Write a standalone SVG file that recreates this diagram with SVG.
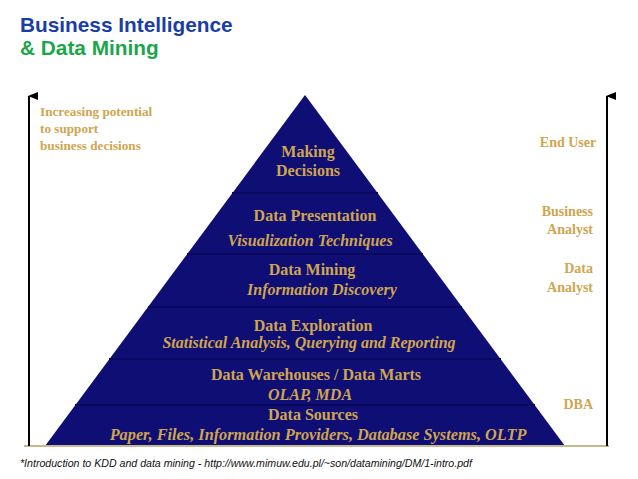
<svg xmlns="http://www.w3.org/2000/svg" width="638" height="479" viewBox="0 0 638 479">
<defs>
<style>
.t{font-family:"Liberation Serif","Times New Roman",serif;font-weight:bold;fill:#cfa550;}
.m{text-anchor:middle;}
.i{font-style:italic;}
.band{stroke:#08085c;stroke-width:2;}
</style>
<marker id="ah" markerWidth="8" markerHeight="10" refX="4" refY="1" orient="auto-start-reverse" markerUnits="userSpaceOnUse" viewBox="0 0 8 10">
<path d="M0,10 L4,0 L8,10 Z" fill="#000"/>
</marker>
</defs>
<rect width="638" height="479" fill="#fff"/>
<g id="title">
<text x="20" y="32" font-family="Liberation Sans,Arial,sans-serif" font-weight="bold" font-size="20.8" fill="#1a3da8">Business Intelligence</text>
<text x="20" y="55" font-family="Liberation Sans,Arial,sans-serif" font-weight="bold" font-size="20.8" fill="#1ca64c">&amp; Data Mining</text>
</g>
<g id="pyramid">
<polygon points="305,95 565,446 45,446" fill="#0e0e74"/>
<line class="band" x1="232" y1="193" x2="378" y2="193"/>
<line class="band" x1="187" y1="254" x2="423" y2="254"/>
<line class="band" x1="148" y1="307" x2="462" y2="307"/>
<line class="band" x1="109" y1="359" x2="501" y2="359"/>
<line class="band" x1="75" y1="405" x2="535" y2="405"/>
<line x1="24" y1="446" x2="609" y2="446" stroke="#c8b890" stroke-width="2"/>
</g>
<g id="connectors">
<line x1="29" y1="446" x2="29" y2="96" stroke="#000" stroke-width="2" marker-end="url(#ah)"/>
<line x1="607" y1="446" x2="607" y2="96" stroke="#000" stroke-width="2" marker-end="url(#ah)"/>
</g>
<g id="making-decisions">
<text class="t m" x="308" y="157" font-size="16">Making</text>
<text class="t m" x="308" y="176" font-size="16">Decisions</text>
</g>
<g id="data-presentation">
<text class="t m" x="315" y="221" font-size="16">Data Presentation</text>
<text class="t m i" x="310" y="246" font-size="16">Visualization Techniques</text>
</g>
<g id="data-mining">
<text class="t m" x="312" y="275" font-size="16">Data Mining</text>
<text class="t m i" x="322" y="295" font-size="16">Information Discovery</text>
</g>
<g id="data-exploration">
<text class="t m" x="313" y="331" font-size="16">Data Exploration</text>
<text class="t m i" x="309" y="348" font-size="16">Statistical Analysis, Querying and Reporting</text>
</g>
<g id="data-warehouses">
<text class="t m" x="316" y="380" font-size="16">Data Warehouses / Data Marts</text>
<text class="t m i" x="310" y="400" font-size="16">OLAP, MDA</text>
</g>
<g id="data-sources">
<text class="t m" x="313" y="420" font-size="16">Data Sources</text>
<text class="t m i" x="318" y="440" font-size="16.3">Paper, Files, Information Providers, Database Systems, OLTP</text>
</g>
<g id="left-label">
<text class="t" x="40" y="116" font-size="13.2">Increasing potential</text>
<text class="t" x="40" y="133" font-size="13.2">to support</text>
<text class="t" x="40" y="150" font-size="13.2">business decisions</text>
</g>
<g id="end-user"><text class="t m" x="568" y="147" font-size="14">End User</text></g>
<g id="business-analyst">
<text class="t" x="593" y="216" font-size="14" text-anchor="end">Business</text>
<text class="t" x="593" y="234" font-size="14" text-anchor="end">Analyst</text>
</g>
<g id="data-analyst">
<text class="t" x="593" y="273" font-size="14" text-anchor="end">Data</text>
<text class="t" x="593" y="292" font-size="14" text-anchor="end">Analyst</text>
</g>
<g id="dba"><text class="t" x="593" y="409" font-size="14" text-anchor="end">DBA</text></g>
<g id="footnote">
<text x="20" y="467" font-family="Liberation Sans,Arial,sans-serif" font-style="italic" font-size="10.6" fill="#111">*Introduction to KDD and data mining - http://www.mimuw.edu.pl/~son/datamining/DM/1-intro.pdf</text>
</g>
</svg>
